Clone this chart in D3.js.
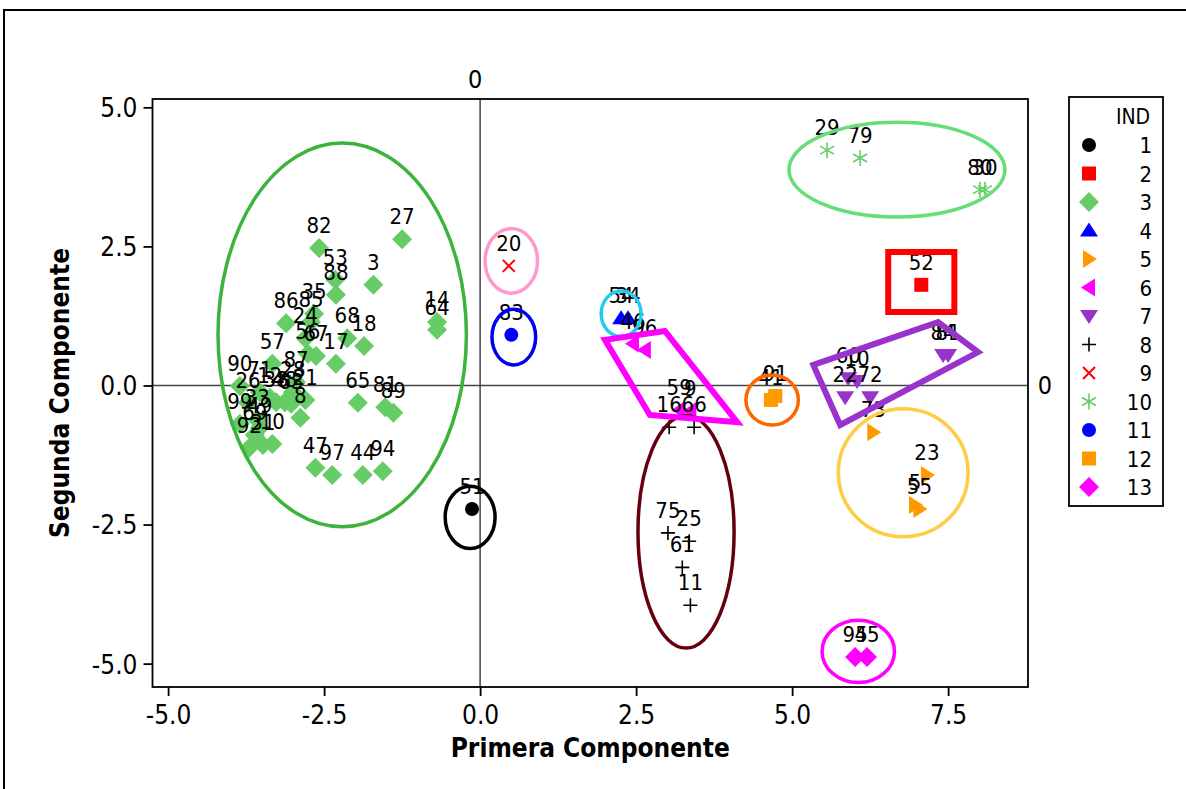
<!DOCTYPE html>
<html>
<head>
<meta charset="utf-8">
<script src="https://cdn.jsdelivr.net/npm/d3@7"></script>
<style>
  html, body { margin: 0; padding: 0; background: #fff; }
  svg { display: block; font-family: "DejaVu Sans Condensed", "DejaVu Sans", sans-serif; }
</style>
</head>
<body>
<svg id="chart" width="1186" height="789"></svg>
<script>
// ---- Data: scores on the first two components, labelled by observation, grouped by IND ----
const indLevels = ["1","2","3","4","5","6","7","8","9","10","11","12","13"];

const ind1 = [["51", -0.13, -2.22]];
const ind2 = [["52", 7.07, 1.81]];
const ind3 = [
  ["82", -2.58, 2.47], ["27", -1.25, 2.63], ["53", -2.32, 1.90], ["88", -2.31, 1.63],
  ["3", -1.71, 1.81], ["35", -2.66, 1.29], ["85", -2.71, 1.14], ["86", -3.11, 1.12],
  ["24", -2.80, 0.85], ["56", -2.76, 0.57], ["67", -2.63, 0.53], ["68", -2.13, 0.85],
  ["18", -1.86, 0.71], ["17", -2.31, 0.39], ["14", -0.69, 1.14], ["64", -0.69, 1.00],
  ["57", -3.33, 0.39], ["90", -3.85, -0.01], ["71", -3.53, -0.12], ["26", -3.72, -0.31],
  ["12", -3.37, -0.22], ["38", -3.27, -0.30], ["48", -3.13, -0.30], ["63", -3.03, -0.33],
  ["28", -3.00, -0.12], ["21", -2.80, -0.26], ["8", -2.88, -0.58], ["87", -2.95, 0.06],
  ["65", -1.96, -0.31], ["81", -1.52, -0.39], ["89", -1.39, -0.49], ["99", -3.85, -0.69],
  ["33", -3.57, -0.62], ["49", -3.53, -0.76], ["69", -3.61, -0.89], ["92", -3.70, -1.12],
  ["31", -3.48, -1.07], ["10", -3.33, -1.05], ["47", -2.64, -1.48], ["97", -2.37, -1.61],
  ["44", -1.88, -1.61], ["94", -1.56, -1.54]
];
const ind4 = [["54", 2.26, 1.21], ["34", 2.37, 1.21]];
const ind5 = [["73", 6.30, -0.84], ["23", 7.16, -1.61], ["5", 6.97, -2.15], ["55", 7.04, -2.22]];
const ind6 = [["46", 2.45, 0.75], ["96", 2.64, 0.64], ["59", 3.19, -0.44], ["9", 3.37, -0.46]];
const ind7 = [["60", 5.90, 0.13], ["10", 6.04, 0.08], ["22", 5.85, -0.21], ["72", 6.25, -0.21],
              ["84", 7.42, 0.55], ["81", 7.50, 0.55]];
const ind8 = [["16", 3.03, -0.75], ["66", 3.43, -0.75], ["75", 3.01, -2.65], ["25", 3.35, -2.80],
              ["61", 3.24, -3.27], ["11", 3.37, -3.95]];
const ind9 = [["20", 0.46, 2.15]];
const ind10 = [["29", 5.56, 4.23], ["79", 6.09, 4.09], ["80", 8.01, 3.52], ["30", 8.09, 3.52]];
const ind11 = [["83", 0.50, 0.91]];
const ind12 = [["41", 4.66, -0.26], ["91", 4.73, -0.19]];
const ind13 = [["95", 6.01, -4.88], ["45", 6.20, -4.88]];
const groupPoints = [ind1, ind2, ind3, ind4, ind5, ind6, ind7, ind8, ind9, ind10, ind11, ind12, ind13];

// Group outlines in component units: ellipses [cx, cy, rx, ry]
const ellipseData = [
  [-2.21, 0.91, 1.99, 3.45],   // IND 3
  [-0.16, -2.37, 0.40, 0.56],  // IND 1
  [0.50, 2.24, 0.42, 0.58],    // IND 9
  [0.54, 0.87, 0.35, 0.50],    // IND 11
  [2.26, 1.29, 0.32, 0.41],    // IND 4
  [4.68, -0.26, 0.42, 0.45],   // IND 12
  [3.30, -2.63, 0.77, 2.09],   // IND 8
  [6.68, 3.88, 1.73, 0.85],    // IND 10
  [6.78, -1.57, 1.04, 1.15],   // IND 5
  [6.06, -4.78, 0.58, 0.56]    // IND 13
];
// Polygon outlines in component units
const hullIND6 = [[2.00, 0.82], [2.96, 0.98], [4.12, -0.66], [2.72, -0.53]];
const hullIND7 = [[5.34, 0.37], [7.34, 1.14], [7.98, 0.60], [5.77, -0.71]];
const boxIND2 = [[6.54, 2.40], [7.60, 2.40], [7.60, 1.32], [6.54, 1.32]];

const xTicks = [-5.0, -2.5, 0.0, 2.5, 5.0, 7.5];
const yTicks = [5.0, 2.5, 0.0, -2.5, -5.0];

// ---- Styles ----
const groupColor = ["#000000", "#ff0000", "#66cc66", "#0000ff", "#ff9900", "#ff00ff", "#9933cc",
                    "#000000", "#ff0000", "#66cc66", "#0000ff", "#ff9900", "#ff00ff"];
const groupShape = ["circle", "square", "diamond", "triUp", "triRight", "triLeft", "triDown",
                    "plus", "times", "asterisk", "circle", "square", "diamond"];
const ellipseColor = ["#3cb33c", "#000000", "#ff99cc", "#0000ee", "#22ccee", "#ff6600",
                      "#660011", "#66dd77", "#ffcc44", "#ff00ff"];

const svg = d3.select("#chart");
const plotLeft = 152.5, plotRight = 1028, plotTop = 99, plotBottom = 687;

const x = d3.scaleLinear().domain([-5.25, 8.78]).range([plotLeft, plotRight]);
const y = d3.scaleLinear().domain([5.15, -5.42]).range([plotTop, plotBottom]);

// outer figure border (top and left edges)
svg.append("path").attr("d", "M4,789 V10 H1186")
  .attr("fill", "none").attr("stroke", "#000").attr("stroke-width", 2);

// reference lines at zero
svg.append("line").attr("x1", x(0)).attr("x2", x(0)).attr("y1", plotTop).attr("y2", plotBottom)
  .attr("stroke", "#444").attr("stroke-width", 1.5);
svg.append("line").attr("x1", plotLeft).attr("x2", plotRight).attr("y1", y(0)).attr("y2", y(0))
  .attr("stroke", "#444").attr("stroke-width", 1.5);
svg.append("text").attr("x", x(0) - 5).attr("y", 88).attr("text-anchor", "middle")
  .attr("font-size", 25).text("0");
svg.append("text").attr("x", 1045).attr("y", y(0) + 9).attr("text-anchor", "middle")
  .attr("font-size", 25).text("0");

// axes (plain hyphen for negatives)
const fmt = v => d3.format(".1f")(v).replace("\u2212", "-");
const xAxis = svg.append("g").attr("transform", `translate(0,${plotBottom})`)
  .call(d3.axisBottom(x).tickValues(xTicks).tickFormat(fmt).tickSize(9).tickSizeOuter(0).tickPadding(7));
const yAxis = svg.append("g").attr("transform", `translate(${plotLeft},0)`)
  .call(d3.axisLeft(y).tickValues(yTicks).tickFormat(fmt).tickSize(9).tickSizeOuter(0).tickPadding(6));
[xAxis, yAxis].forEach(a => {
  a.select(".domain").remove();
  a.selectAll(".tick line").attr("stroke", "#000").attr("stroke-width", 1.8);
  a.selectAll(".tick text").attr("font-size", 26).attr("fill", "#000")
    .attr("font-family", "\"DejaVu Sans Condensed\", \"DejaVu Sans\", sans-serif");
});
xAxis.selectAll(".tick text").attr("dy", "0.8em");
yAxis.selectAll(".tick text").attr("dy", "0.36em");

// plot frame
svg.append("rect").attr("x", plotLeft).attr("y", plotTop)
  .attr("width", plotRight - plotLeft).attr("height", plotBottom - plotTop)
  .attr("fill", "none").attr("stroke", "#000").attr("stroke-width", 1.8);

// axis titles
svg.append("text").attr("x", (plotLeft + plotRight) / 2).attr("y", 757).attr("text-anchor", "middle")
  .attr("font-size", 26).attr("font-weight", "bold").text("Primera Componente");
svg.append("text").attr("transform", `translate(69,${(plotTop + plotBottom) / 2}) rotate(-90)`)
  .attr("text-anchor", "middle").attr("font-size", 26).attr("font-weight", "bold").text("Segunda Componente");

// marker drawing
function drawMarker(g, shape, color) {
  switch (shape) {
    case "circle":
      g.append("circle").attr("r", 7).attr("fill", color); break;
    case "square":
      g.append("rect").attr("x", -7).attr("y", -7).attr("width", 14).attr("height", 14).attr("fill", color); break;
    case "diamond":
      g.append("path").attr("d", "M0,-10L10,0L0,10L-10,0Z").attr("fill", color); break;
    case "triUp":
      g.append("path").attr("d", "M0,-8L9,6L-9,6Z").attr("fill", color); break;
    case "triDown":
      g.append("path").attr("d", "M-9,-6L9,-6L0,8Z").attr("fill", color); break;
    case "triRight":
      g.append("path").attr("d", "M-6,-9L8,0L-6,9Z").attr("fill", color); break;
    case "triLeft":
      g.append("path").attr("d", "M6,-9L-8,0L6,9Z").attr("fill", color); break;
    case "plus":
      g.append("path").attr("d", "M-7,0H7M0,-7V7").attr("stroke", color).attr("stroke-width", 1.6).attr("fill", "none"); break;
    case "times":
      g.append("path").attr("d", "M-6,-6L6,6M-6,6L6,-6").attr("stroke", color).attr("stroke-width", 2).attr("fill", "none"); break;
    case "asterisk":
      g.append("path").attr("d", "M0,-8V8M-7,-4L7,4M-7,4L7,-4").attr("stroke", color).attr("stroke-width", 1.6).attr("fill", "none"); break;
  }
}

// points
const pts = svg.append("g");
groupPoints.forEach((arr, gi) => {
  arr.forEach(p => {
    const g = pts.append("g").attr("transform", `translate(${x(p[1])},${y(p[2])})`);
    drawMarker(g, groupShape[gi], groupColor[gi]);
  });
});
// point labels
const labs = svg.append("g").attr("font-size", 22).attr("fill", "#000");
groupPoints.forEach(arr => {
  arr.forEach(p => {
    labs.append("text").attr("x", x(p[1])).attr("y", y(p[2]) - 15)
      .attr("text-anchor", "middle").text(p[0]);
  });
});

// group outlines
const outlines = svg.append("g").attr("fill", "none");
ellipseData.forEach((e, i) => {
  outlines.append("ellipse")
    .attr("cx", x(e[0])).attr("cy", y(e[1]))
    .attr("rx", x(e[0] + e[2]) - x(e[0])).attr("ry", y(e[1] - e[3]) - y(e[1]))
    .attr("stroke", ellipseColor[i]).attr("stroke-width", 3.5);
});
const line = d3.line().x(d => x(d[0])).y(d => y(d[1])).curve(d3.curveLinearClosed);
outlines.append("path").attr("d", line(hullIND6)).attr("stroke", "#ff00ff").attr("stroke-width", 6).attr("stroke-linejoin", "miter");
outlines.append("path").attr("d", line(hullIND7)).attr("stroke", "#9933cc").attr("stroke-width", 6).attr("stroke-linejoin", "miter");
outlines.append("path").attr("d", line(boxIND2)).attr("stroke", "#ff0000").attr("stroke-width", 6);

// legend
const lg = svg.append("g");
lg.append("rect").attr("x", 1069).attr("y", 97).attr("width", 94).attr("height", 409)
  .attr("fill", "#fff").attr("stroke", "#000").attr("stroke-width", 1.8);
lg.append("text").attr("x", 1133).attr("y", 124).attr("text-anchor", "middle").attr("font-size", 21).text("IND");
indLevels.forEach((lvl, i) => {
  const cy = 145 + i * 28.5;
  const g = lg.append("g").attr("transform", `translate(1089,${cy})`);
  drawMarker(g, groupShape[i], groupColor[i]);
  lg.append("text").attr("x", 1152).attr("y", cy + 8).attr("text-anchor", "end").attr("font-size", 22).text(lvl);
});
</script>
</body>
</html>
